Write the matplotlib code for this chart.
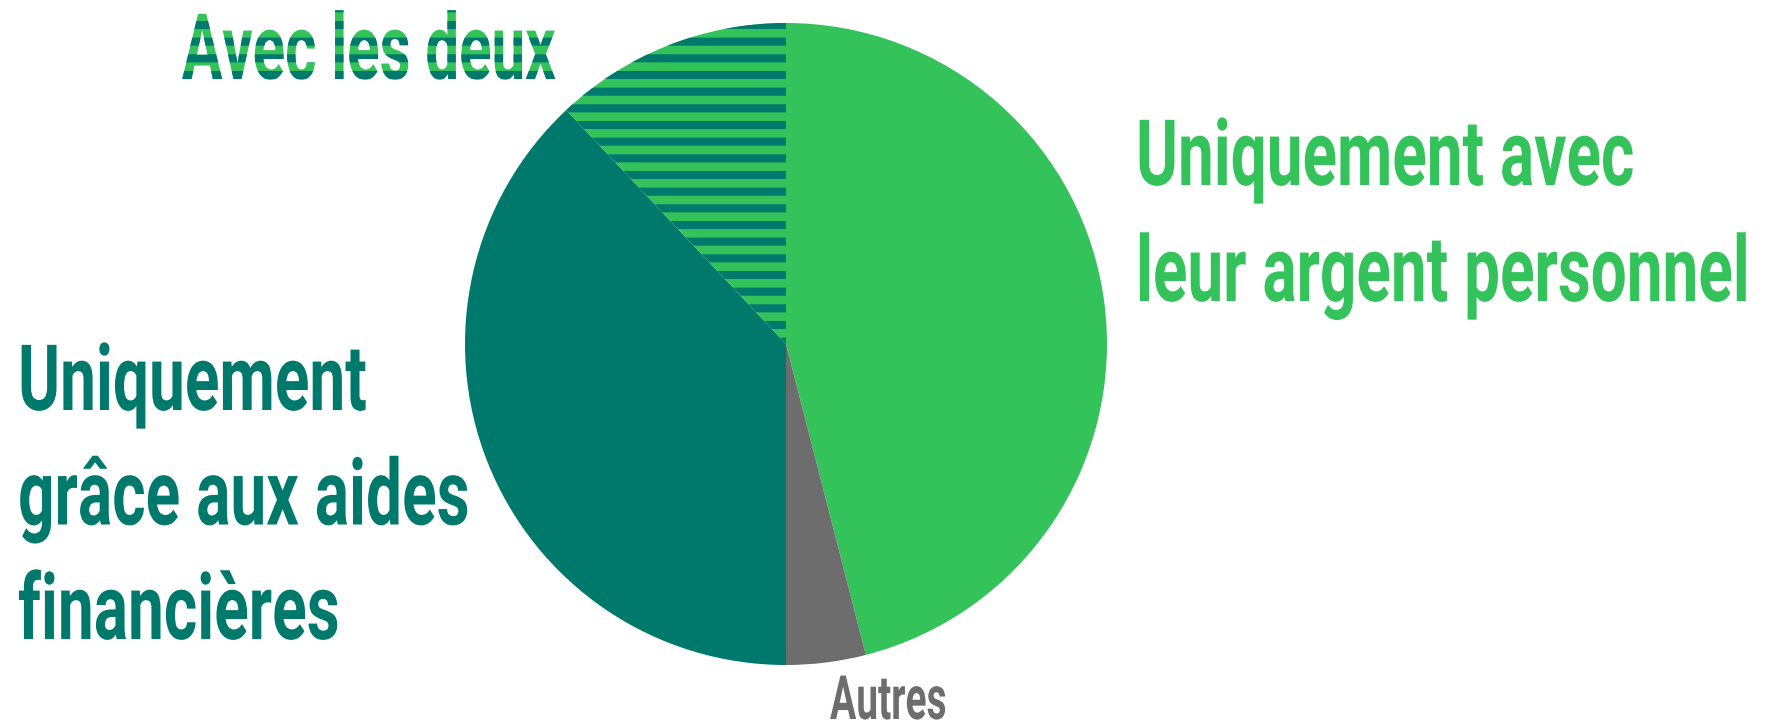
import matplotlib
matplotlib.use("Agg")
import matplotlib.pyplot as plt
import matplotlib.colors as mcolors
from matplotlib.font_manager import FontProperties
from matplotlib.patheffects import AbstractPathEffect
from matplotlib.textpath import TextPath
from matplotlib.transforms import Affine2D

# data (share of students, %), clockwise from the top
categories = [
    "Uniquement avec\nleur argent personnel",
    "Autres",
    "Uniquement\ngrâce aux aides\nfinancières",
    "Avec les deux",
]
values = [46, 4, 38, 12]

GREEN = "#34C35A"
TEAL = "#00796D"
GREY = "#6D6D6D"
colors = [GREEN, GREY, TEAL, GREEN]

W, H, DPI = 1776, 721, 100
plt.rcParams["hatch.linewidth"] = 5.8
plt.rcParams["hatch.color"] = TEAL


class Squeeze(AbstractPathEffect):
    """draw a text line narrower (condensed look) starting at pixel x `left`,
    optionally striped"""

    def __init__(self, sx, left, hatch=None, hatch_color=None):
        super().__init__()
        self.sx = sx
        self.left = left
        self.hatch = hatch
        self.hatch_color = hatch_color

    def draw_path(self, renderer, gc, tpath, affine, rgbFace=None):
        x0 = affine.get_matrix()[0, 2]
        aff = affine + Affine2D().translate(-x0, 0).scale(self.sx, 1).translate(self.left, 0)
        gc0 = renderer.new_gc()
        gc0.copy_properties(gc)
        if self.hatch:
            gc0.set_hatch(self.hatch)
            gc0.set_hatch_color(mcolors.to_rgba(self.hatch_color))
        renderer.draw_path(gc0, tpath, aff, rgbFace)
        gc0.restore()


fig = plt.figure(figsize=(W / DPI, H / DPI), dpi=DPI)
cx, cy, r = 786, 344, 321
ax = fig.add_axes([(cx - r) / W, (H - cy - r) / H, 2 * r / W, 2 * r / H])
wedges, _ = ax.pie(values, colors=colors, startangle=90, counterclock=False,
                   radius=1, wedgeprops=dict(linewidth=0))
wedges[3].set_edgecolor(TEAL)
wedges[3].set_linewidth(0)
wedges[3].set_hatch("-")
ax.set_xlim(-1, 1)
ax.set_ylim(-1, 1)
ax.set_aspect("equal")
ax.axis("off")

font = FontProperties(family="Roboto", weight="bold")
fs_big = 66
fs_small = 44


def label(text, x, y, size, color, step, width, anchor="left", **kw):
    lines = text.split("\n")
    # squeeze so the first line is `width` px wide, like the condensed original
    w_pt = TextPath((0, 0), lines[0], size=size, prop=font).get_extents().width
    sx = width / (w_pt * DPI / 72)
    for i, line in enumerate(lines):
        xt = x / W if anchor == "left" else 0.995
        fig.text(xt, 1 - (y + i * step) / H, line, fontproperties=font,
                 fontsize=size, color=color, ha=anchor, va="baseline",
                 path_effects=[Squeeze(sx, x, **kw)])


label(categories[0], 1136, 185, fs_big, GREEN, 116, 493, anchor="right")
label(categories[1], 830, 719, fs_small, GREY, 0, 115)
label(categories[2], 18, 410, fs_big, TEAL, 114.5, 344)
label(categories[3], 182, 79, fs_big, GREEN, 0, 373, hatch="-", hatch_color=TEAL)

fig.savefig("out.png", dpi=DPI)
